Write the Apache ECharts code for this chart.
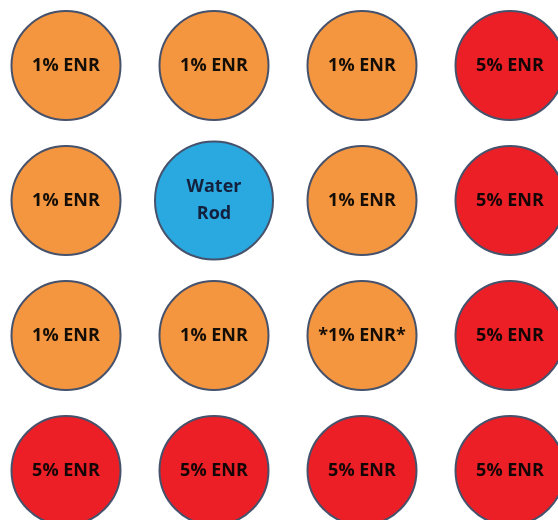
<!DOCTYPE html>
<html>
<head>
<meta charset="utf-8">
<script src="https://cdn.jsdelivr.net/npm/echarts@6/dist/echarts.min.js"></script>
<style>
html,body{margin:0;padding:0;background:#fff;}
#chart{width:558px;height:520px;}
</style>
</head>
<body>
<div id="chart"></div>
<script>
// Pin lattice: columns and rows
const columns = ['C1', 'C2', 'C3', 'C4'];
const rows = ['R1', 'R2', 'R3', 'R4'];
// Cell contents, row by row (top to bottom)
const row1 = ['1% ENR', '1% ENR', '1% ENR', '5% ENR'];
const row2 = ['1% ENR', 'Water\nRod', '1% ENR', '5% ENR'];
const row3 = ['1% ENR', '1% ENR', '*1% ENR*', '5% ENR'];
const row4 = ['5% ENR', '5% ENR', '5% ENR', '5% ENR'];
const cellRows = [row1, row2, row3, row4];

function styleFor(label) {
  if (label.indexOf('Water') === 0) return {color: '#29a9e0', size: 118, text: '#13213d'};
  if (label.indexOf('5%') === 0) return {color: '#ec1f26', size: 109, text: '#140606'};
  return {color: '#f4963f', size: 109, text: '#150e06'};
}

const data = [];
cellRows.forEach(function (r, ri) {
  r.forEach(function (label, ci) {
    const s = styleFor(label);
    data.push({
      value: [columns[ci], rows[ri]],
      name: label,
      symbolSize: s.size,
      itemStyle: {color: s.color, borderColor: '#46526c', borderWidth: 2, opacity: 1},
      label: {color: s.text}
    });
  });
});

const chart = echarts.init(document.getElementById('chart'));
chart.setOption({
  backgroundColor: '#ffffff',
  animation: false,
  grid: {left: -8, top: -2, width: 592, height: 540, outerBoundsMode: 'none', containLabel: false},
  xAxis: {type: 'category', data: columns, show: false, boundaryGap: true},
  yAxis: {type: 'category', data: rows, show: false, inverse: true, boundaryGap: true},
  series: [{
    type: 'scatter',
    symbol: 'circle',
    data: data,
    itemStyle: {opacity: 1},
    label: {
      show: true,
      position: 'inside',
      formatter: function (p) { return p.name; },
      fontFamily: 'Open Sans',
      fontWeight: 'bold',
      fontSize: 18,
      lineHeight: 27
    },
    emphasis: {disabled: true}
  }]
});
</script>
</body>
</html>
